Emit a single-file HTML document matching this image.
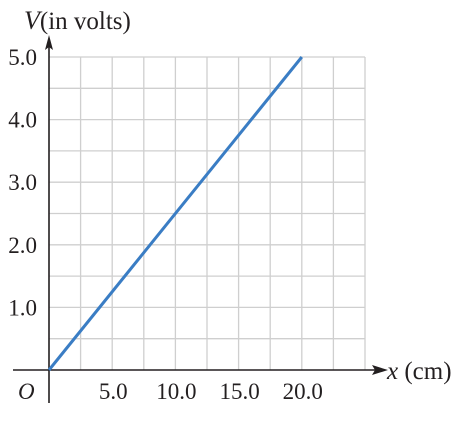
<!DOCTYPE html>
<html><head><style>body{margin:0;background:#fff}svg{display:block}text{font-family:"Liberation Serif",serif;fill:#231f20}</style></head>
<body>
<svg width="460" height="426" id="c">
<g id="grid"></g>
<line x1="13" y1="370" x2="378" y2="370" stroke="#231f20" stroke-width="1.6"/>
<polygon points="388,370 372,365 375,370 372,375" fill="#231f20"/>
<line x1="49" y1="403" x2="49" y2="44" stroke="#231f20" stroke-width="1.6"/>
<polygon points="49,35 45,50 49,47 53,50" fill="#231f20"/>
<g id="ticks"></g>
<text x="24" y="29" font-size="26"><tspan font-style="italic">V</tspan><tspan font-size="25">(in volts)</tspan></text>
<text x="387" y="379" font-size="25"><tspan font-style="italic">x</tspan> (cm)</text>
<text x="18" y="399" font-size="23" font-style="italic">O</text>
<polyline id="line" fill="none" stroke="#3a7dc4" stroke-width="3"/>
</svg>
<script>
const xTicks=[5,10,15,20];
const xTickLabels=["5.0","10.0","15.0","20.0"];
const yTicks=[1,2,3,4,5];
const yTickLabels=["1.0","2.0","3.0","4.0","5.0"];
const xData=[0,20];
const vData=[0,5];
const X=v=>49+v*(316/25), Y=v=>370-v*(313/5);
const ns="http://www.w3.org/2000/svg";
const g=document.getElementById('grid');
for(let i=1;i<=10;i++){
 let l=document.createElementNS(ns,'line');
 l.setAttribute('x1',X(i*2.5));l.setAttribute('x2',X(i*2.5));l.setAttribute('y1',Y(0));l.setAttribute('y2',Y(5));
 l.setAttribute('stroke','#cfcfcf');l.setAttribute('stroke-width','1.3');
 
 
 g.appendChild(l);
 let h=document.createElementNS(ns,'line');
 h.setAttribute('x1',X(0));h.setAttribute('x2',X(25));h.setAttribute('y1',Y(i*0.5));h.setAttribute('y2',Y(i*0.5));
 h.setAttribute('stroke','#cfcfcf');h.setAttribute('stroke-width','1.3');
 
 
 g.appendChild(h);
}
const t=document.getElementById('ticks');
xTicks.forEach((v,i)=>{let e=document.createElementNS(ns,'text');e.setAttribute('x',X(v)+1);e.setAttribute('y',399);e.setAttribute('font-size','23');e.setAttribute('text-anchor','middle');e.textContent=xTickLabels[i];


t.appendChild(e);});
yTicks.forEach((v,i)=>{let e=document.createElementNS(ns,'text');e.setAttribute('x',37);e.setAttribute('y',Y(v)+8);e.setAttribute('font-size','23');e.setAttribute('text-anchor','end');e.textContent=yTickLabels[i];


t.appendChild(e);});
document.getElementById('line').setAttribute('points',xData.map((x,i)=>X(x)+','+Y(vData[i])).join(' '));
</script>
</body></html>
